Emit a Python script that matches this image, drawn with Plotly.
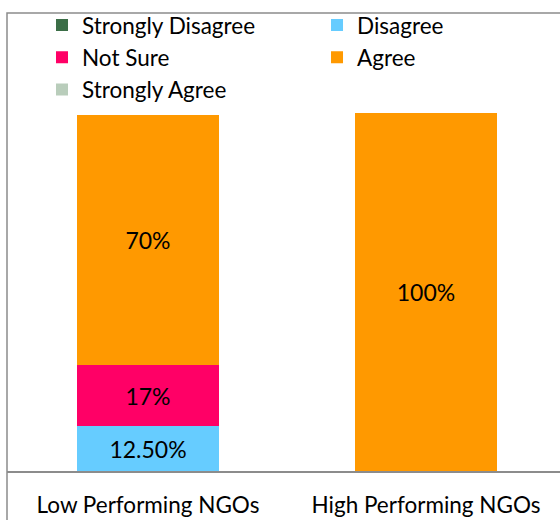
import plotly.graph_objects as go

categories = ["Low Performing NGOs", "High Performing NGOs"]
series_names = ["Strongly Disagree", "Disagree", "Not Sure", "Agree", "Strongly Agree"]
strongly_disagree = [0, 0]
disagree = [12.5, 0]
not_sure = [17, 0]
agree = [70, 100]
strongly_agree = [0, 0]
labels = {
    "Strongly Disagree": ["", ""],
    "Disagree": ["12.50%", ""],
    "Not Sure": ["17%", ""],
    "Agree": ["70%", "100%"],
    "Strongly Agree": ["", ""],
}
colors = {
    "Strongly Disagree": "#3b6e47",
    "Disagree": "#66ccff",
    "Not Sure": "#ff0066",
    "Agree": "#ff9900",
    "Strongly Agree": "#b9cdbb",
}
# legend column for each series (reference shows a 2-column legend)
legend_column = {
    "Strongly Disagree": "legend",
    "Disagree": "legend2",
    "Not Sure": "legend",
    "Agree": "legend2",
    "Strongly Agree": "legend",
}
values = [strongly_disagree, disagree, not_sure, agree, strongly_agree]

FONT = "Lato, Carlito, Calibri, sans-serif"

fig = go.Figure()
for name, vals in zip(series_names, values):
    fig.add_trace(go.Bar(
        name=name, x=categories, y=vals,
        marker=dict(color=colors[name], line=dict(width=0)),
        text=labels[name], texttemplate="%{text}",
        textposition="inside", insidetextanchor="middle",
        textfont=dict(family=FONT, size=23, color="#000000"),
        width=0.514, hoverinfo="skip",
        legend=legend_column[name],
    ))

legend_common = dict(
    orientation="v", xanchor="left", yanchor="top", y=1.02,
    traceorder="normal",
    font=dict(family=FONT, size=22.5, color="#000000"),
    bgcolor="rgba(0,0,0,0)",
)

fig.update_layout(
    width=560, height=520,
    barmode="stack",
    margin=dict(l=7, r=0, t=13, b=49),
    paper_bgcolor="white", plot_bgcolor="white",
    font=dict(family=FONT, size=22, color="#000000"),
    showlegend=True,
    legend=dict(x=0.0633, **legend_common),
    legend2=dict(x=0.5606, **legend_common),
    uniformtext=dict(mode=False),
)
fig.update_xaxes(
    range=[-0.5072, 1.482], showgrid=False, showline=True,
    linecolor="#8c8c8c", linewidth=1.5, ticks="", ticklabelstandoff=13,
    tickfont=dict(family=FONT, size=22.5, color="#000000"),
)
fig.update_yaxes(range=[0, 127.9], showgrid=False, showticklabels=False,
                 zeroline=False, showline=False)

fig.add_shape(type="rect", xref="paper", yref="paper",
              x0=0, x1=1.1, y0=-0.3, y1=1,
              line=dict(color="#8c8c8c", width=1.5), layer="above")

fig.write_html("out.html")
